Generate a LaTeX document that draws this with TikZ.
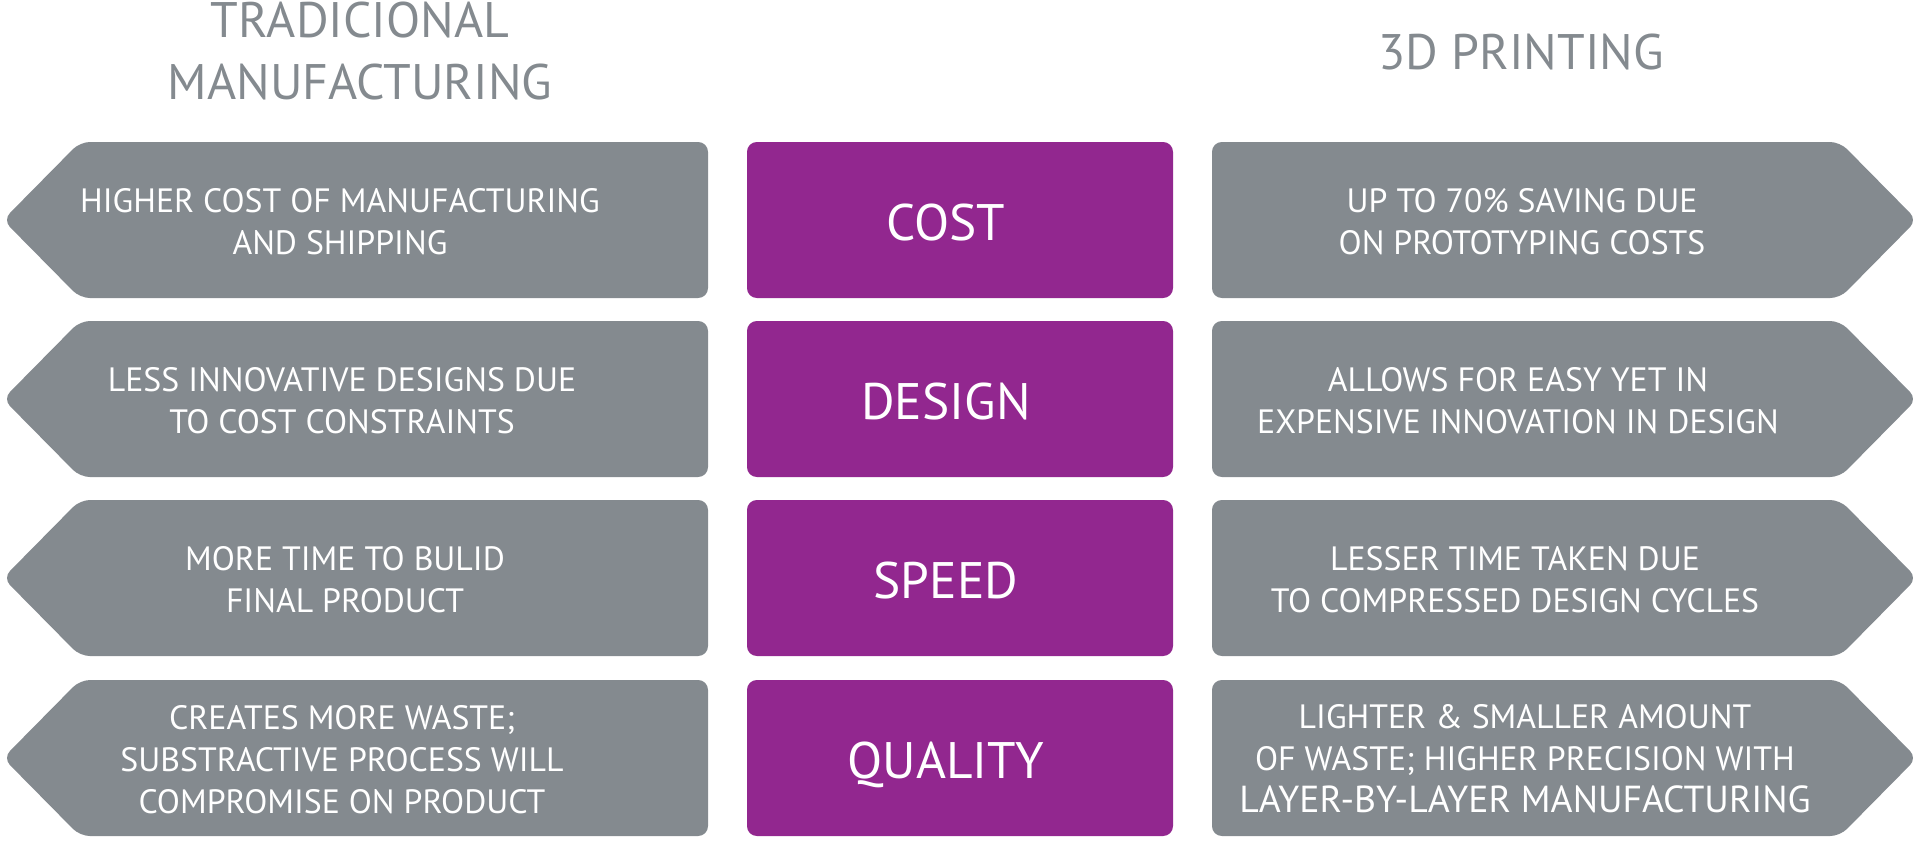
\documentclass[tikz,border=0pt]{standalone}
\usepackage{fontspec}
\setmainfont{PT Sans}
\definecolor{slate}{RGB}{132,138,143}
\definecolor{plum}{RGB}{146,39,143}

\begin{document}
\begin{tikzpicture}[x=0.01cm,y=-0.01cm,
    heading/.style={text=slate,align=center,inner sep=0pt,font=\fontsize{14.2}{17.9}\selectfont},
    body/.style={text=white,align=center,inner sep=0pt,font=\fontsize{9.6}{11.95}\selectfont},
    topic/.style={text=white,inner sep=0pt,text height=10.2pt,text depth=0pt,font=\fontsize{14.6}{17}\selectfont}]
    \useasboundingbox (0,0) rectangle (1920,844);

    % column headings
    \node[heading] (trad) at (360,51) {TRADICIONAL\\MANUFACTURING};
    \node[heading] (print) at (1521,52) {3D PRINTING};

    % left arrows, middle boxes, right arrows
    \foreach \y in {142,321,500,680} {
        \fill[slate,rounded corners=2.8pt] (708,\y) -- (80,\y) -- (3,\y+78) -- (80,\y+156) -- (708,\y+156) -- cycle;
        \fill[plum,rounded corners=2.8pt] (747,\y) rectangle (1173,\y+156);
        \fill[slate,rounded corners=2.8pt] (1212,\y) -- (1840,\y) -- (1917,\y+78) -- (1840,\y+156) -- (1212,\y+156) -- cycle;
    }

    \node[topic] (cost) at (946,223) {COST};
    \node[topic] (design) at (946,402) {DESIGN};
    \node[topic] (speed) at (946,581) {SPEED};
    \node[topic] (quality) at (946,761) {QUALITY};

    \node[body] (costL) at (340,222) {HIGHER COST OF MANUFACTURING\\AND SHIPPING};
    \node[body] (designL) at (342,401) {LESS INNOVATIVE DESIGNS DUE\\TO COST CONSTRAINTS};
    \node[body] (speedL) at (345,580) {MORE TIME TO BULID\\FINAL PRODUCT};
    \node[body] (qualityL) at (342,760) {CREATES MORE WASTE;\\SUBSTRACTIVE PROCESS WILL\\COMPROMISE ON PRODUCT};

    \node[body] (costR) at (1522,222) {UP TO 70\% SAVING DUE\\ON PROTOTYPING COSTS};
    \node[body] (designR) at (1518,401) {ALLOWS FOR EASY YET IN\\EXPENSIVE INNOVATION IN DESIGN};
    \node[body] (speedR) at (1515,580) {LESSER TIME TAKEN DUE\\TO COMPRESSED DESIGN CYCLES};
    \node[body] (qualityR) at (1525,759) {LIGHTER \& SMALLER AMOUNT\\OF WASTE; HIGHER PRECISION WITH\\{\fontsize{10.7}{11.95}\selectfont LAYER-BY-LAYER MANUFACTURING}};
\end{tikzpicture}
\end{document}
